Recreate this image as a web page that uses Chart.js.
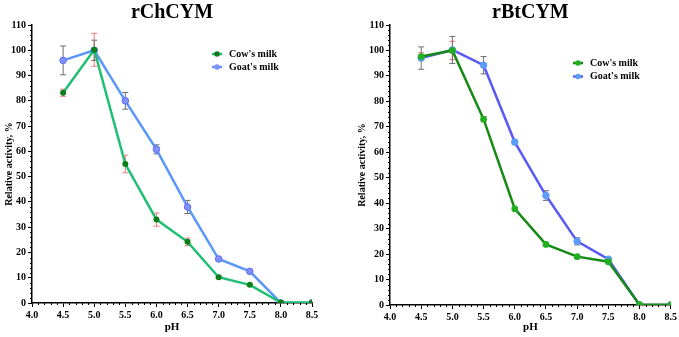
<!DOCTYPE html>
<html>
<head>
<meta charset="utf-8">
<script src="https://cdn.jsdelivr.net/npm/chart.js@4.4.0/dist/chart.umd.min.js"></script>
<style>
  body { margin: 0; background: #fff; }
  #wrap { position: relative; width: 679px; height: 337px; overflow: hidden; }
  canvas { position: absolute; top: 0; }
</style>
</head>
<body>
<div id="wrap">
  <canvas id="chChart" width="340" height="337" style="left:0"></canvas>
  <canvas id="btChart" width="339" height="337" style="left:340px"></canvas>
</div>
<script>
// pH values and tick labels
const phValues = [4.5, 5.0, 5.5, 6.0, 6.5, 7.0, 7.5, 8.0, 8.5];
const xTickLabels = ['4.0', '4.5', '5.0', '5.5', '6.0', '6.5', '7.0', '7.5', '8.0', '8.5'];
const yTickLabels = ['0', '10', '20', '30', '40', '50', '60', '70', '80', '90', '100', '110'];
const seriesNames = ["Cow's milk", "Goat's milk"];

// rChCYM
const chCow = [83.2, 100.2, 55.0, 33.0, 24.2, 10.2, 7.2, 0.2, 0.2];
const chCowErr = [1.4, 6.5, 3.5, 2.6, 1.5, 0.5, 0.4, 0, 0];
const chGoat = [96.0, 100.0, 80.0, 60.8, 38.0, 17.4, 12.5, 0, 0];
const chGoatErr = [5.7, 4.0, 3.3, 1.8, 2.6, 0.5, 0.5, 0, 0];

// rBtCYM
const btCow = [97.6, 100.0, 73.0, 37.8, 23.8, 19.0, 17.0, 0.1, 0.1];
const btCowErr = [1.5, 3.6, 1.0, 0.5, 0.5, 0.4, 0.4, 0, 0];
const btGoat = [97.0, 100.2, 94.2, 64.0, 43.0, 25.0, 18.0, 0, 0];
const btGoatErr = [4.4, 5.3, 3.4, 0.8, 1.9, 1.4, 0.5, 0, 0];

const serif = "'Times New Roman', 'Liberation Serif', serif";

function toPoints(vals) {
    return vals.map((v, i) => ({x: phValues[i], y: v}));
}

// error bars, drawn under the markers
const errorBars = {
    id: 'errorBars',
    beforeDatasetsDraw(chart, args, opts) {
        const ctx = chart.ctx;
        const xs = chart.scales.x, ys = chart.scales.y;
        ctx.save();
        ctx.lineWidth = 1;
        chart.data.datasets.forEach((ds, di) => {
            const errs = opts.errors[di];
            ctx.strokeStyle = opts.colors[di];
            ds.data.forEach((p, i) => {
                const e = errs[i];
                if (!e) return;
                const x = xs.getPixelForValue(p.x);
                const y1 = ys.getPixelForValue(p.y + e);
                const y2 = ys.getPixelForValue(p.y - e);
                ctx.beginPath();
                ctx.moveTo(x, y1); ctx.lineTo(x, y2);
                ctx.moveTo(x - 3, y1); ctx.lineTo(x + 3, y1);
                ctx.moveTo(x - 3, y2); ctx.lineTo(x + 3, y2);
                ctx.stroke();
            });
        });
        ctx.restore();
    }
};

// small minor ticks on both axes
const minorTicks = {
    id: 'minorTicks',
    afterDraw(chart) {
        const ctx = chart.ctx;
        const xs = chart.scales.x, ys = chart.scales.y;
        const a = chart.chartArea;
        ctx.save();
        ctx.strokeStyle = '#000';
        ctx.lineWidth = 1;
        ctx.beginPath();
        for (let i = 0; i <= 45; i++) {
            if (i % 5 === 0) continue;
            const x = Math.round(xs.getPixelForValue(4 + i * 0.1)) + 0.5;
            ctx.moveTo(x, a.bottom); ctx.lineTo(x, a.bottom + 2);
        }
        for (let i = 0; i <= 55; i++) {
            if (i % 5 === 0) continue;
            const y = Math.round(ys.getPixelForValue(i * 2)) + 0.5;
            ctx.moveTo(a.left, y); ctx.lineTo(a.left - 2, y);
        }
        ctx.stroke();
        ctx.restore();
    }
};

// legend with line + dot, placed by hand
const handLegend = {
    id: 'handLegend',
    afterDraw(chart, args, opts) {
        const ctx = chart.ctx;
        ctx.save();
        ctx.font = 'bold 10px ' + serif;
        ctx.textBaseline = 'middle';
        ctx.fillStyle = '#000';
        chart.data.datasets.forEach((ds, i) => {
            const y = opts.y + i * opts.gap;
            ctx.strokeStyle = ds.borderColor;
            ctx.lineWidth = 2.5;
            ctx.beginPath();
            ctx.moveTo(opts.x, y); ctx.lineTo(opts.x + 10, y);
            ctx.stroke();
            ctx.beginPath();
            ctx.arc(opts.x + 5, y, 2.8, 0, Math.PI * 2);
            ctx.fillStyle = ds.pointBackgroundColor;
            ctx.fill();
            ctx.fillStyle = '#000';
            ctx.fillText(ds.label, opts.x + 17, y);
        });
        ctx.restore();
    }
};

function makeChart(id, title, cow, cowErr, goat, goatErr, look) {
    return new Chart(document.getElementById(id).getContext('2d'), {
        type: 'line',
        data: {
            datasets: [
                {
                    label: seriesNames[0],
                    data: toPoints(cow),
                    borderColor: look.cowLine,
                    borderWidth: 2.5,
                    pointBackgroundColor: look.cowDot,
                    pointBorderColor: look.cowDot,
                    pointBorderWidth: 0,
                    pointRadius: look.cowR,
                    tension: 0
                },
                {
                    label: seriesNames[1],
                    data: toPoints(goat),
                    borderColor: look.goatLine,
                    borderWidth: 2.5,
                    pointBackgroundColor: look.goatDot,
                    pointBorderColor: look.goatDotEdge,
                    pointBorderWidth: 1,
                    pointRadius: look.goatR,
                    tension: 0
                }
            ]
        },
        options: {
            responsive: false,
            animation: false,
            layout: { padding: { left: 0, right: look.padRight, top: 0, bottom: 0 } },
            scales: {
                x: {
                    type: 'linear',
                    min: 4, max: 8.5,
                    afterFit: s => { s.height = look.xHeight; },
                    ticks: {
                        stepSize: 0.5,
                        color: '#000',
                        padding: 2,
                        font: { family: serif, size: 10, weight: 'bold' },
                        callback: (v, i) => xTickLabels[i]
                    },
                    grid: { drawOnChartArea: false, tickLength: 4, color: '#000' },
                    border: { color: '#000', width: 1.5 },
                    title: {
                        display: true, text: 'pH', color: '#000',
                        font: { family: serif, size: 11, weight: 'bold' },
                        padding: { top: 0, bottom: 3 }
                    }
                },
                y: {
                    min: 0, max: 110,
                    afterFit: s => { s.width = look.yWidth; },
                    ticks: {
                        stepSize: 10,
                        color: '#000',
                        padding: 2,
                        font: { family: serif, size: 10, weight: 'bold' },
                        callback: (v, i) => yTickLabels[i]
                    },
                    grid: { drawOnChartArea: false, tickLength: 4, color: '#000' },
                    border: { color: '#000', width: 1.5 },
                    title: {
                        display: true, text: 'Relative activity, %', color: '#000',
                        font: { family: serif, size: 10, weight: 'bold' },
                        padding: { top: look.yTitlePad, bottom: 0 }
                    }
                }
            },
            plugins: {
                legend: { display: false },
                tooltip: { enabled: false },
                title: {
                    display: true,
                    text: title,
                    fullSize: false,
                    color: '#000',
                    font: { family: serif, size: 20, weight: 'bold', lineHeight: 1.0 },
                    padding: { top: 3, bottom: 2 }
                },
                errorBars: {
                    errors: [cowErr, goatErr],
                    colors: ['#f07a7a', '#6e6e6e']
                },
                handLegend: look.legend
            }
        },
        plugins: [errorBars, minorTicks, handLegend]
    });
}

makeChart('chChart', 'rChCYM', chCow, chCowErr, chGoat, chGoatErr, {
    cowLine: '#1fbf73', cowDot: '#0b7d19', cowR: 3,
    goatLine: '#5b97fa', goatDot: '#8290ff', goatDotEdge: '#5f6ef2', goatR: 3.3,
    padRight: 28, xHeight: 34, yWidth: 32, yTitlePad: 3,
    legend: { x: 212, y: 54, gap: 13 }
});

makeChart('btChart', 'rBtCYM', btCow, btCowErr, btGoat, btGoatErr, {
    cowLine: '#178a17', cowDot: '#22b022', cowR: 3.4,
    goatLine: '#5a5af5', goatDot: '#5c9cfa', goatDotEdge: '#5c9cfa', goatR: 3.3,
    padRight: 6, xHeight: 32, yWidth: 50, yTitlePad: 16,
    legend: { x: 233, y: 63, gap: 13.5 }
});
</script>
</body>
</html>
